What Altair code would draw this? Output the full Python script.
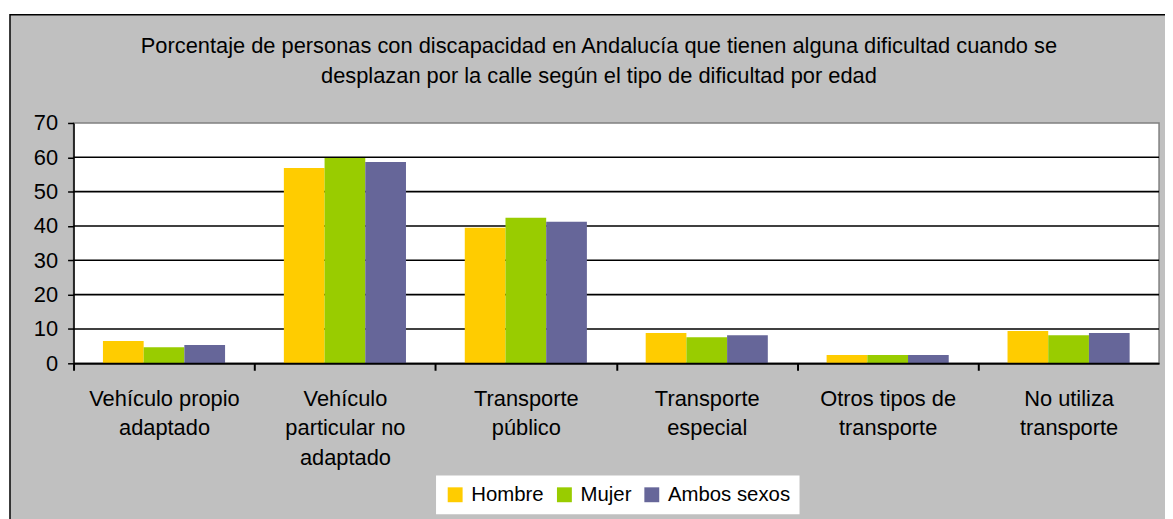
import altair as alt
import pandas as pd

# ---- data ----
categories = [
    "Vehículo propio|adaptado",
    "Vehículo|particular no|adaptado",
    "Transporte|público",
    "Transporte|especial",
    "Otros tipos de|transporte",
    "No utiliza|transporte",
]
series = ["Hombre", "Mujer", "Ambos sexos"]
hombre = [6.5, 56.9, 39.5, 8.8, 2.4, 9.4]
mujer = [4.7, 59.8, 42.4, 7.6, 2.4, 8.2]
ambos = [5.3, 58.6, 41.2, 8.2, 2.4, 8.8]
colors = ["#FFCC00", "#99CC00", "#666699"]
y_ticks = [0, 10, 20, 30, 40, 50, 60, 70]
grid_ticks = [10, 20, 30, 40, 50, 60]
title_text = ("Porcentaje de personas con discapacidad en Andalucía que tienen alguna dificultad cuando se\n"
              "desplazan por la calle según el tipo de dificultad por edad")

rows = []
for name, vals in zip(series, [hombre, mujer, ambos]):
    for c, v in zip(categories, vals):
        rows.append({"cat": c, "serie": name, "valor": v})
df = pd.DataFrame(rows)

W, H = 1093, 242
FONT = "Liberation Sans"
FS = 22
LFS = 20.5
STEP = W / len(categories)

one = alt.Data(values=[{"k": 0}])

y_scale = alt.Scale(domain=[0, 70], nice=False)
y_axis = alt.Axis(
    title=None, values=y_ticks, labelFont=FONT, labelFontSize=FS,
    labelColor="#000000", labelPadding=10, labelOverlap=False, labelFlush=False,
    domainColor="#000000", domainWidth=1.5,
    tickColor="#000000", tickWidth=1.5, tickSize=6, grid=False, zindex=1,
)

frame = alt.Chart(one).mark_rect(fill="#C0C0C0", stroke="#000000", strokeWidth=1.5).encode(
    x=alt.value(-64), x2=alt.value(W + 60), y=alt.value(-109), y2=alt.value(H + 260)
)
plotbg = alt.Chart(one).mark_rect(fill="#FFFFFF", stroke="#808080", strokeWidth=1.5).encode(
    x=alt.value(0), x2=alt.value(W), y=alt.value(0), y2=alt.value(H)
)
title = alt.Chart(one).mark_text(
    text=title_text, lineBreak="\n", lineHeight=30, font=FONT, fontSize=FS,
    color="#000000", align="center", baseline="alphabetic"
).encode(x=alt.value(529), y=alt.value(-70))

grid = alt.Chart(pd.DataFrame({"valor": grid_ticks})).mark_rule(
    color="#000000", strokeWidth=1.6
).encode(y=alt.Y("valor:Q", scale=y_scale, axis=y_axis))

bars = alt.Chart(df).mark_bar(strokeWidth=0).encode(
    x=alt.X(
        "cat:N", sort=categories,
        scale=alt.Scale(paddingInner=0.325, paddingOuter=0.1625),
        axis=alt.Axis(
            title=None, labelAngle=0,
            labelExpr="isValid(datum.value) ? split(datum.value, '|') : ''",
            labelFont=FONT, labelFontSize=FS, labelColor="#000000", labelLineHeight=30,
            labelPadding=18, labelLimit=400, labelOverlap=False,
            ticks=True, tickOffset=-STEP / 2, labelOffset=STEP / 2,
            domainColor="#000000", domainWidth=2,
            tickColor="#000000", tickWidth=2, tickSize=7, grid=False, zindex=1,
        ),
    ),
    xOffset=alt.XOffset("serie:N", sort=series, scale=alt.Scale(paddingInner=0, paddingOuter=0)),
    y=alt.Y("valor:Q", scale=y_scale, axis=y_axis),
    color=alt.Color(
        "serie:N", sort=series, scale=alt.Scale(domain=series, range=colors),
        legend=alt.Legend(
            title=None, orient="none", legendX=365, legendY=355, direction="horizontal",
            fillColor="#FFFFFF", padding=9, symbolType="square", symbolSize=225,
            symbolStrokeWidth=0, symbolOpacity=1, labelFont=FONT, labelFontSize=LFS,
            labelColor="#000000", labelOffset=6, columnPadding=10,
        ),
    ),
)

chart = alt.layer(frame, plotbg, title, grid, bars).properties(
    width=W, height=H,
    padding={"left": 66, "top": 114, "right": 6, "bottom": 155},
    autosize=alt.AutoSizeParams(type="none"),
    background="#FFFFFF",
).configure_view(stroke=None)

chart.save("out.html", embed_options={"renderer": "svg", "actions": False})
